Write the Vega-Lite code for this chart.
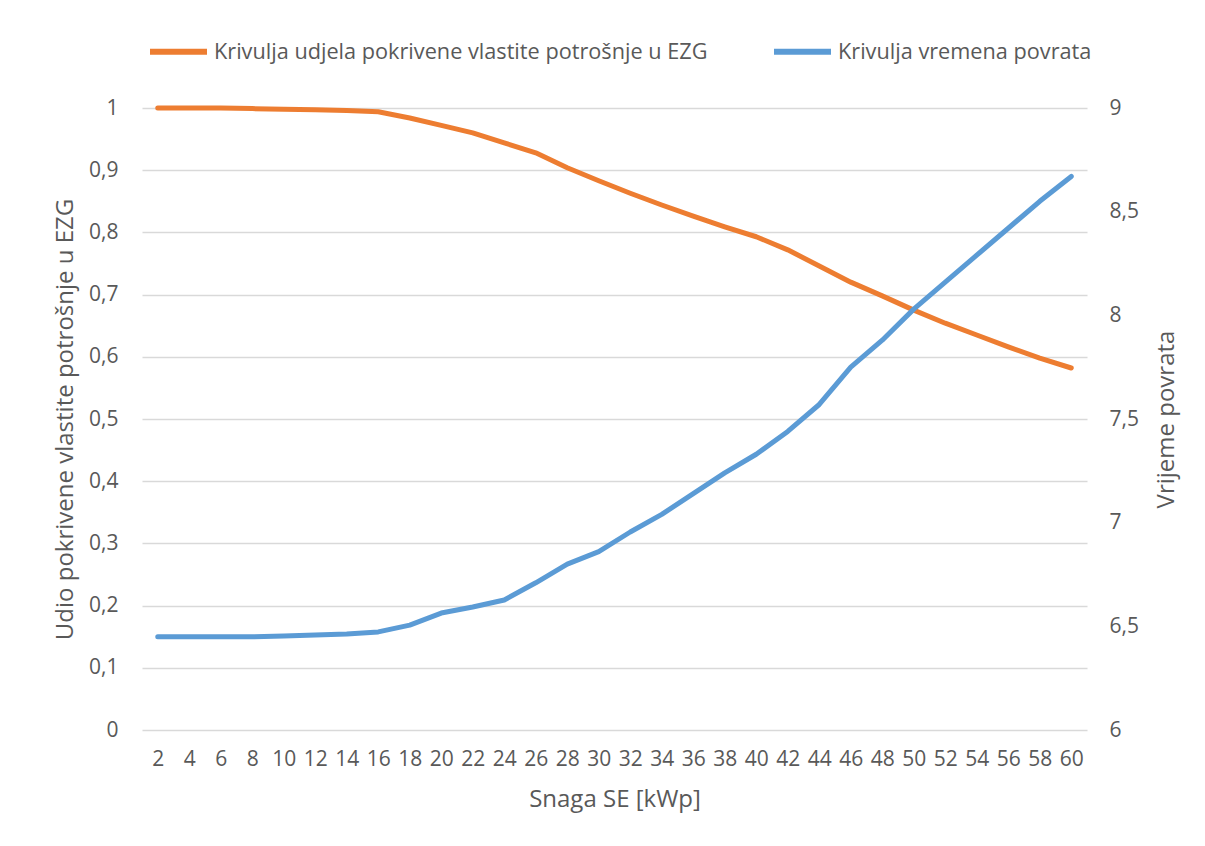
{
  "$schema": "https://vega.github.io/schema/vega-lite/v6.json",
  "width": 945,
  "height": 622,
  "autosize": {"type": "none"},
  "padding": {"left": 142, "top": 108, "right": 118, "bottom": 116},
  "background": "white",
  "config": {
    "locale": {"number": {"decimal": ",", "thousands": ".", "grouping": [3], "currency": ["", " €"]}},
    "font": "Open Sans",
    "view": {"stroke": null},
    "axis": {
      "labelColor": "#595959",
      "titleColor": "#595959",
      "labelFont": "Open Sans",
      "titleFont": "Open Sans",
      "labelFontSize": 21,
      "titleFontSize": 24,
      "titleFontWeight": "normal",
      "domain": false,
      "ticks": false
    }
  },
  "data": {
    "values": [
      {"snaga": 2, "udio": 1.0, "vrijeme": 6.45},
      {"snaga": 4, "udio": 1.0, "vrijeme": 6.45},
      {"snaga": 6, "udio": 1.0, "vrijeme": 6.45},
      {"snaga": 8, "udio": 0.999, "vrijeme": 6.45},
      {"snaga": 10, "udio": 0.998, "vrijeme": 6.453},
      {"snaga": 12, "udio": 0.997, "vrijeme": 6.458},
      {"snaga": 14, "udio": 0.996, "vrijeme": 6.463},
      {"snaga": 16, "udio": 0.994, "vrijeme": 6.473},
      {"snaga": 18, "udio": 0.984, "vrijeme": 6.506},
      {"snaga": 20, "udio": 0.972, "vrijeme": 6.564},
      {"snaga": 22, "udio": 0.96, "vrijeme": 6.593},
      {"snaga": 24, "udio": 0.944, "vrijeme": 6.627},
      {"snaga": 26, "udio": 0.928, "vrijeme": 6.71},
      {"snaga": 28, "udio": 0.904, "vrijeme": 6.8},
      {"snaga": 30, "udio": 0.883, "vrijeme": 6.86},
      {"snaga": 32, "udio": 0.863, "vrijeme": 6.955},
      {"snaga": 34, "udio": 0.844, "vrijeme": 7.04},
      {"snaga": 36, "udio": 0.826, "vrijeme": 7.14},
      {"snaga": 38, "udio": 0.809, "vrijeme": 7.24},
      {"snaga": 40, "udio": 0.793, "vrijeme": 7.33},
      {"snaga": 42, "udio": 0.772, "vrijeme": 7.44},
      {"snaga": 44, "udio": 0.746, "vrijeme": 7.57},
      {"snaga": 46, "udio": 0.72, "vrijeme": 7.75},
      {"snaga": 48, "udio": 0.698, "vrijeme": 7.88},
      {"snaga": 50, "udio": 0.675, "vrijeme": 8.03},
      {"snaga": 52, "udio": 0.654, "vrijeme": 8.16},
      {"snaga": 54, "udio": 0.635, "vrijeme": 8.29},
      {"snaga": 56, "udio": 0.616, "vrijeme": 8.42},
      {"snaga": 58, "udio": 0.598, "vrijeme": 8.55},
      {"snaga": 60, "udio": 0.582, "vrijeme": 8.67}
    ]
  },
  "encoding": {
    "x": {
      "field": "snaga",
      "type": "ordinal",
      "scale": {"type": "point", "padding": 0.5},
      "axis": {"labelAngle": 0, "title": "Snaga SE [kWp]", "labelPadding": 18, "titlePadding": 18}
    }
  },
  "layer": [
    {
      "mark": {"type": "line", "strokeWidth": 5, "strokeCap": "round", "strokeJoin": "round"},
      "encoding": {
        "y": {
          "field": "udio",
          "type": "quantitative",
          "scale": {"domain": [0, 1], "nice": false, "zero": false},
          "axis": {
            "title": "Udio pokrivene vlastite potrošnje u EZG",
            "values": [0, 0.1, 0.2, 0.3, 0.4, 0.5, 0.6, 0.7, 0.8, 0.9, 1],
            "format": ".1~f",
            "grid": true,
            "gridColor": "#D9D9D9",
            "gridWidth": 1.5,
            "labelPadding": 24,
            "titlePadding": 11
          }
        },
        "color": {
          "datum": "Krivulja udjela pokrivene vlastite potrošnje u EZG",
          "type": "nominal",
          "scale": {
            "domain": ["Krivulja udjela pokrivene vlastite potrošnje u EZG", "Krivulja vremena povrata"],
            "range": ["#ED7D31", "#5B9BD5"]
          },
          "legend": {
            "title": null,
            "orient": "none",
            "direction": "horizontal",
            "legendX": 5,
            "legendY": -88,
            "symbolType": "stroke",
            "symbolSize": 3249,
            "symbolStrokeWidth": 6,
            "labelOffset": 4,
            "labelFont": "Open Sans",
            "labelFontSize": 21.7,
            "labelColor": "#595959",
            "labelLimit": 0,
            "columnPadding": 54
          }
        }
      }
    },
    {
      "mark": {"type": "line", "strokeWidth": 5, "strokeCap": "round", "strokeJoin": "round"},
      "encoding": {
        "y": {
          "field": "vrijeme",
          "type": "quantitative",
          "scale": {"domain": [6, 9], "nice": false, "zero": false},
          "axis": {
            "orient": "right",
            "title": "Vrijeme povrata",
            "values": [6, 6.5, 7, 7.5, 8, 8.5, 9],
            "format": ".1~f",
            "grid": false,
            "labelPadding": 22,
            "titlePadding": 16,
            "titleAngle": 270,
            "titleBaseline": "top"
          }
        },
        "color": {"datum": "Krivulja vremena povrata", "type": "nominal"}
      }
    }
  ],
  "resolve": {"scale": {"y": "independent"}}
}
